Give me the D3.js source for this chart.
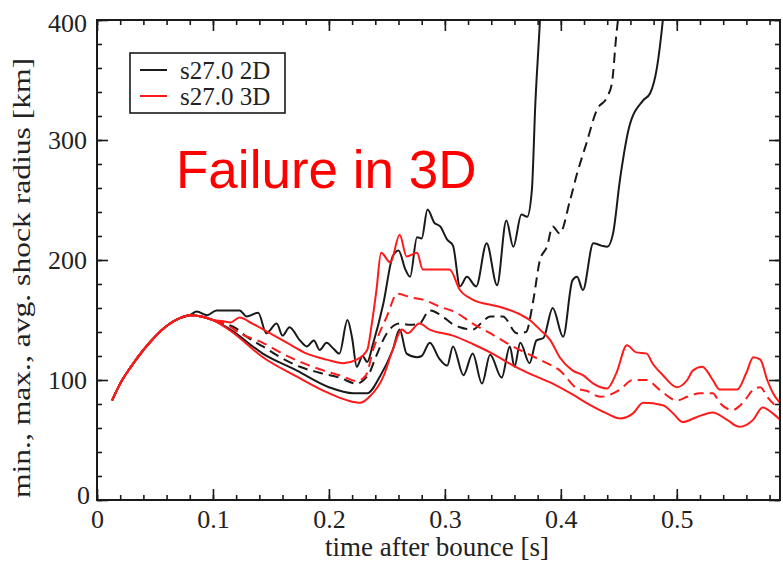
<!DOCTYPE html>
<html>
<head>
<meta charset="utf-8">
<script src="https://cdn.jsdelivr.net/npm/d3@7/dist/d3.min.js"></script>
<style>
  body { margin: 0; background: #fff; }
  svg text { font-family: "Liberation Serif", "Times New Roman", serif; }
</style>
</head>
<body>
<svg id="chart" width="783" height="562"></svg>
<script>
// shared early rise, all six curves start together
var rise = [[0.013,83],[0.02,97],[0.03,112],[0.04,125],[0.05,136],[0.06,145],[0.07,151],[0.08,154],[0.09,153],[0.1,150]];

var max2D = [[0.086,157],[0.095,154],[0.103,158],[0.123,158],[0.129,153],[0.139,156],[0.146,139],[0.155,147],[0.16,137],[0.166,144],[0.175,133],[0.181,128],[0.187,133],[0.192,125],[0.198,131],[0.204,126],[0.209,122],[0.216,150],[0.22,135],[0.224,111],[0.229,120],[0.233,115],[0.238,130],[0.247,164],[0.255,203],[0.26,208],[0.266,192],[0.27,186],[0.276,219],[0.28,218],[0.285,242],[0.291,231],[0.296,228],[0.302,217],[0.307,212],[0.313,178],[0.319,186],[0.327,178],[0.336,214],[0.345,179],[0.353,233],[0.359,211],[0.366,238],[0.371,236],[0.375,258],[0.378,330],[0.382,400],[0.383,420]];
var avg2D = [[0.11,147],[0.12,143],[0.129,136],[0.143,128],[0.158,119],[0.175,111],[0.192,106],[0.209,102],[0.224,97],[0.23,100],[0.235,106],[0.24,118],[0.25,139],[0.261,147],[0.27,146],[0.278,147],[0.287,158],[0.298,153],[0.306,147],[0.313,144],[0.324,142],[0.332,148],[0.339,153],[0.35,153],[0.362,139],[0.37,140],[0.376,165],[0.382,200],[0.388,211],[0.393,228],[0.399,222],[0.408,250],[0.414,272],[0.422,297],[0.431,325],[0.44,336],[0.444,347],[0.448,389],[0.452,420]];
var min2D = [[0.115,142],[0.143,122],[0.172,108],[0.2,94],[0.221,89],[0.233,89],[0.244,103],[0.255,125],[0.261,142],[0.267,122],[0.276,119],[0.28,120],[0.287,131],[0.295,118],[0.302,112],[0.307,128],[0.316,104],[0.324,122],[0.332,97],[0.339,121],[0.349,102],[0.356,128],[0.36,111],[0.365,131],[0.373,114],[0.379,133],[0.385,135],[0.393,160],[0.402,136],[0.41,183],[0.414,186],[0.419,175],[0.428,214],[0.435,212],[0.44,211],[0.445,222],[0.451,267],[0.459,311],[0.471,333],[0.477,339],[0.483,361],[0.488,400],[0.49,420]];

var max3D = [[0.109,149],[0.115,148],[0.123,152],[0.134,147],[0.149,139],[0.164,131],[0.181,122],[0.198,117],[0.212,114],[0.224,117],[0.233,125],[0.237,147],[0.241,175],[0.245,206],[0.253,198],[0.261,221],[0.267,203],[0.276,206],[0.281,192],[0.304,192],[0.313,175],[0.324,167],[0.347,161],[0.362,156],[0.373,150],[0.382,142],[0.391,133],[0.399,119],[0.41,108],[0.419,104],[0.428,97],[0.44,93],[0.448,106],[0.457,129],[0.465,123],[0.474,122],[0.479,114],[0.488,104],[0.5,94],[0.509,100],[0.514,108],[0.522,111],[0.531,100],[0.537,92],[0.552,92],[0.56,106],[0.566,119],[0.572,117],[0.578,100],[0.583,89],[0.589,81]];
var avg3D = [[0.11,147],[0.125,138],[0.143,131],[0.16,122],[0.178,114],[0.195,108],[0.212,103],[0.224,99],[0.229,101],[0.233,106],[0.238,125],[0.241,133],[0.25,153],[0.259,172],[0.27,169],[0.281,167],[0.296,161],[0.31,156],[0.324,147],[0.339,139],[0.353,131],[0.371,122],[0.388,114],[0.399,108],[0.414,93],[0.422,91],[0.434,86],[0.451,92],[0.462,100],[0.474,100],[0.485,92],[0.5,83],[0.509,86],[0.52,89],[0.531,89],[0.537,81],[0.548,75],[0.557,81],[0.566,92],[0.572,94],[0.578,86],[0.589,75]];
var min3D = [[0.115,141],[0.143,119],[0.172,103],[0.2,89],[0.216,83],[0.227,81],[0.235,86],[0.247,103],[0.255,125],[0.263,142],[0.268,139],[0.278,147],[0.287,142],[0.307,137],[0.324,130],[0.341,122],[0.359,112],[0.376,104],[0.393,97],[0.41,88],[0.422,81],[0.44,72],[0.451,68],[0.462,72],[0.471,81],[0.488,79],[0.497,72],[0.505,65],[0.517,69],[0.531,73],[0.543,67],[0.554,61],[0.566,67],[0.574,77],[0.583,72],[0.589,67]];

var xTicks = [0, 0.1, 0.2, 0.3, 0.4, 0.5];
var yTicks = [0, 100, 200, 300, 400];
var legendLabels = ["s27.0 2D", "s27.0 3D"];
var note = "Failure in 3D";

var svg = d3.select("#chart");
var pL = 97, pR = 780, pT = 20, pB = 500;
var x = d3.scaleLinear().domain([0, 0.589]).range([pL, pR]);
var y = d3.scaleLinear().domain([0, 400]).range([pB, pT]);

var black = "#1a1a1a", red = "#ff1a1a";

svg.append("defs").append("clipPath").attr("id", "clip")
  .append("rect").attr("x", pL).attr("y", pT).attr("width", pR - pL).attr("height", pB - pT);

var line = d3.line().x(function(d){ return x(d[0]); }).y(function(d){ return y(d[1]); }).curve(d3.curveMonotoneX);

var series = [
  {data: max2D, color: black, dash: null, cut: 0.08},
  {data: avg2D, color: black, dash: "10,6", cut: 0.1},
  {data: min2D, color: black, dash: null, cut: 0.1},
  {data: max3D, color: red, dash: null, cut: 0.1},
  {data: avg3D, color: red, dash: "10,6", cut: 0.1},
  {data: min3D, color: red, dash: null, cut: 0.1}
];

var g = svg.append("g").attr("clip-path", "url(#clip)");
series.forEach(function(s){
  var pts = rise.filter(function(p){ return p[0] <= s.cut; }).concat(s.data);
  g.append("path").datum(pts)
    .attr("d", line)
    .attr("fill", "none")
    .attr("stroke", s.color)
    .attr("stroke-width", 2)
    .attr("stroke-dasharray", s.dash);
});

// axes with inward ticks on all four sides
function minor(step, lo, hi){ return d3.range(lo, hi + 1e-9, step); }
var xMinor = minor(0.02, 0, 0.589), yMinor = minor(20, 0, 400);

var axB = d3.axisBottom(x).tickValues(xTicks).tickSize(-11).tickPadding(10).tickFormat(d3.format("~g"));
var axT = d3.axisTop(x).tickValues(xTicks).tickSize(-11).tickFormat("");
var axL = d3.axisLeft(y).tickValues(yTicks).tickSize(-11).tickPadding(10).tickFormat(d3.format("d"));
var axR = d3.axisRight(y).tickValues(yTicks).tickSize(-11).tickFormat("");

svg.append("g").attr("transform", "translate(0," + pB + ")").call(d3.axisBottom(x).tickValues(xMinor).tickSize(-5).tickFormat(""));
svg.append("g").attr("transform", "translate(0," + pT + ")").call(d3.axisTop(x).tickValues(xMinor).tickSize(-5).tickFormat(""));
svg.append("g").attr("transform", "translate(" + pL + ",0)").call(d3.axisLeft(y).tickValues(yMinor).tickSize(-5).tickFormat(""));
svg.append("g").attr("transform", "translate(" + pR + ",0)").call(d3.axisRight(y).tickValues(yMinor).tickSize(-5).tickFormat(""));

var gb = svg.append("g").attr("transform", "translate(0," + pB + ")").call(axB);
svg.append("g").attr("transform", "translate(0," + pT + ")").call(axT);
var gl = svg.append("g").attr("transform", "translate(" + pL + ",0)").call(axL);
svg.append("g").attr("transform", "translate(" + pR + ",0)").call(axR);

svg.selectAll(".domain").remove();
svg.selectAll(".tick line").attr("stroke", black).attr("stroke-width", 1.6);
svg.selectAll(".tick text").attr("fill", "#222").style("font-size", "26px");
gl.selectAll(".tick text").filter(function(d){ return d === 0; }).attr("dy", "0.15em").attr("x", -7);
gl.selectAll(".tick text").filter(function(d){ return d === 400; }).attr("dy", "0.45em");

svg.append("rect").attr("x", pL).attr("y", pT).attr("width", pR - pL).attr("height", pB - pT)
  .attr("fill", "none").attr("stroke", black).attr("stroke-width", 2);

// axis titles
svg.append("text").attr("x", 437).attr("y", 556).attr("text-anchor", "middle")
  .style("font-size", "27px").attr("fill", "#222").text("time after bounce [s]");
svg.append("text").attr("transform", "translate(30,278) rotate(-90)").attr("text-anchor", "middle")
  .attr("textLength", 440).attr("lengthAdjust", "spacingAndGlyphs")
  .style("font-size", "26px").attr("fill", "#222").text("min., max., avg. shock radius [km]");

// legend
var lg = svg.append("g");
lg.append("rect").attr("x", 130).attr("y", 53).attr("width", 155).attr("height", 60)
  .attr("fill", "#fff").attr("stroke", black).attr("stroke-width", 1.6);
legendLabels.forEach(function(lbl, i){
  var yy = 70 + i * 26;
  lg.append("line").attr("x1", 140).attr("x2", 167).attr("y1", yy).attr("y2", yy)
    .attr("stroke", i === 0 ? black : red).attr("stroke-width", 2);
  lg.append("text").attr("x", 180).attr("y", yy + 9).style("font-size", "25px").attr("fill", "#222").text(lbl);
});

svg.append("text").attr("x", 176).attr("y", 188)
  .style("font-family", "'Liberation Sans', Arial, sans-serif").style("font-size", "53px")
  .attr("fill", "#ff0000").text(note);
</script>
</body>
</html>
